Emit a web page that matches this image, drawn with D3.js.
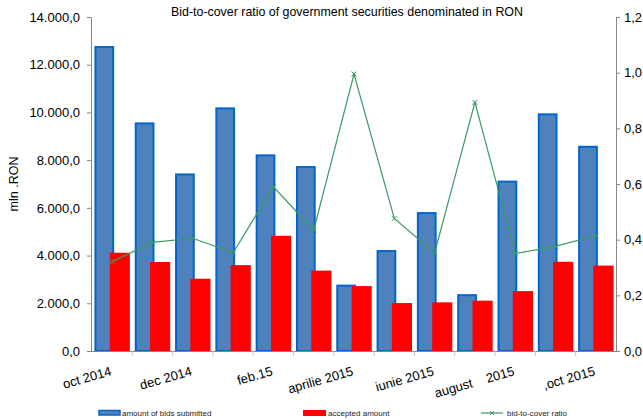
<!DOCTYPE html>
<html>
<head>
<meta charset="utf-8">
<script src="https://cdn.jsdelivr.net/npm/d3@7"></script>
<style>
  body { margin: 0; background: #fff; }
  svg { font-family: "Liberation Sans", Arial, sans-serif; }
</style>
</head>
<body>
<div id="chart"></div>
<script>
const categories = ["oct 2014", "nov 2014", "dec 2014", "ian 2015", "feb.15", "mar 2015",
  "aprilie 2015", "mai 2015", "iunie 2015", "iulie 2015", "august    2015", "sep 2015", ",oct 2015"];
const shownLabels = ["oct 2014", "dec 2014", "feb.15", "aprilie 2015", "iunie 2015", "august    2015", ",oct 2015"];
const bidsSubmitted = [12740, 9540, 7400, 10170, 8200, 7710, 2740, 4190, 5780, 2340, 7100, 9920, 8560];
const acceptedAmount = [4120, 3730, 3030, 3600, 4830, 3370, 2720, 2010, 2040, 2110, 2510, 3740, 3580];
const bidToCover = [0.321, 0.39, 0.405, 0.353, 0.59, 0.434, 0.995, 0.476, 0.352, 0.893, 0.35, 0.376, 0.415];
const leftTicks = [0, 2000, 4000, 6000, 8000, 10000, 12000, 14000];
const rightTicks = [0, 0.2, 0.4, 0.6, 0.8, 1.0, 1.2];

const W = 643, H = 420;
const plotLeft = 92, plotRight = 616, plotTop = 17, plotBottom = 351;

const svg = d3.select("#chart").append("svg")
  .attr("width", W)
  .attr("height", H);

const x = d3.scaleBand().domain(categories).range([plotLeft, plotRight]).padding(0);
const y = d3.scaleLinear().domain([0, 14000]).range([plotBottom, plotTop]);
const y2 = d3.scaleLinear().domain([0, 1.2]).range([plotBottom, plotTop]);

const fmtLeft = d => d3.format(",.1f")(d).replace(/,/g, "#").replace(".", ",").replace(/#/g, ".");
const fmtRight = d => d3.format(".1f")(d).replace(".", ",");

// title
svg.append("text")
  .attr("x", 347)
  .attr("y", 16)
  .attr("text-anchor", "middle")
  .style("font-size", "12.4px")
  .text("Bid-to-cover ratio of government securities denominated in RON");

// y axis label
svg.append("text")
  .attr("transform", "translate(18,184) rotate(-90)")
  .attr("text-anchor", "middle")
  .style("font-size", "12.5px")
  .text("mln .RON");

const bw = x.bandwidth();

// blue bars
svg.append("g").selectAll("rect")
  .data(bidsSubmitted)
  .join("rect")
  .attr("x", (d, i) => x(categories[i]) + bw * 0.085)
  .attr("y", d => y(d))
  .attr("width", bw * 0.44)
  .attr("height", d => plotBottom - y(d))
  .attr("fill", "#4F81BD")
  .attr("stroke", "#0066CC")
  .attr("stroke-width", 2);

// red bars
svg.append("g").selectAll("rect")
  .data(acceptedAmount)
  .join("rect")
  .attr("x", (d, i) => x(categories[i]) + bw * 0.44)
  .attr("y", d => y(d))
  .attr("width", bw * 0.5)
  .attr("height", d => plotBottom - y(d))
  .attr("fill", "#FF0000");

// left axis
const gl = svg.append("g")
  .attr("transform", "translate(" + (plotLeft - 1) + ",0)")
  .call(d3.axisLeft(y).tickValues(leftTicks).tickFormat(fmtLeft).tickSize(4).tickPadding(7));
gl.select(".domain").attr("stroke", "#868686");
gl.selectAll(".tick line").attr("stroke", "#868686");
gl.selectAll("text").style("font-size", "13px").attr("fill", "#000");

// right axis
const gr = svg.append("g")
  .attr("transform", "translate(" + plotRight + ",0)")
  .call(d3.axisRight(y2).tickValues(rightTicks).tickFormat(fmtRight).tickSize(4).tickPadding(4));
gr.select(".domain").attr("stroke", "#868686");
gr.selectAll(".tick line").attr("stroke", "#868686");
gr.selectAll("text").style("font-size", "13px").attr("fill", "#000");

// x axis line and ticks on band boundaries
svg.append("line")
  .attr("x1", plotLeft - 1).attr("x2", plotRight)
  .attr("y1", plotBottom + 0.5).attr("y2", plotBottom + 0.5)
  .attr("stroke", "#868686");
svg.append("g").selectAll("line")
  .data(categories.slice(1))
  .join("line")
  .attr("x1", d => x(d)).attr("x2", d => x(d))
  .attr("y1", plotBottom).attr("y2", plotBottom + 5)
  .attr("stroke", "#c8c8c8");

// x labels
svg.append("g").selectAll("text")
  .data(shownLabels)
  .join("text")
  .attr("transform", d => "translate(" + (x(d) + bw / 2) + "," + (plotBottom + 24) + ") rotate(-16)")
  .attr("text-anchor", "end")
  .style("font-size", "13px")
  .style("white-space", "pre")
  .text(d => d);

// ratio line
const line = d3.line()
  .x((d, i) => x(categories[i]) + bw / 2)
  .y(d => y2(d));

svg.append("path")
  .datum(bidToCover)
  .attr("fill", "none")
  .attr("stroke", "#3A9A62")
  .attr("stroke-width", 1.2)
  .attr("d", line);

const ms = 2.5;
svg.append("g").selectAll("path")
  .data(bidToCover)
  .join("path")
  .attr("d", (d, i) => {
    const cx = x(categories[i]) + bw / 2, cy = y2(d);
    return "M" + (cx - ms) + "," + (cy - ms) + "L" + (cx + ms) + "," + (cy + ms) +
      "M" + (cx - ms) + "," + (cy + ms) + "L" + (cx + ms) + "," + (cy - ms);
  })
  .attr("stroke", "#3A9A62")
  .attr("stroke-width", 1);

// legend
const legend = svg.append("g").style("font-size", "8px");
legend.append("rect")
  .attr("x", 99).attr("y", 410.5).attr("width", 21).attr("height", 4.5)
  .attr("fill", "#4F81BD").attr("stroke", "#0066CC").attr("stroke-width", 1.5);
legend.append("text").attr("x", 122).attr("y", 416).attr("fill", "#222").text("amount of bids submitted");
legend.append("rect")
  .attr("x", 303).attr("y", 410).attr("width", 23).attr("height", 6)
  .attr("fill", "#FF0000");
legend.append("text").attr("x", 328).attr("y", 416).attr("fill", "#222").text("accepted amount");
legend.append("line")
  .attr("x1", 481).attr("x2", 503).attr("y1", 413).attr("y2", 413)
  .attr("stroke", "#3A9A62").attr("stroke-width", 1.2);
legend.append("path")
  .attr("d", "M490,411L494,415M490,415L494,411")
  .attr("stroke", "#3A9A62");
legend.append("text").attr("x", 507).attr("y", 416).attr("fill", "#222").text("bid-to-cover ratio");
</script>
</body>
</html>
